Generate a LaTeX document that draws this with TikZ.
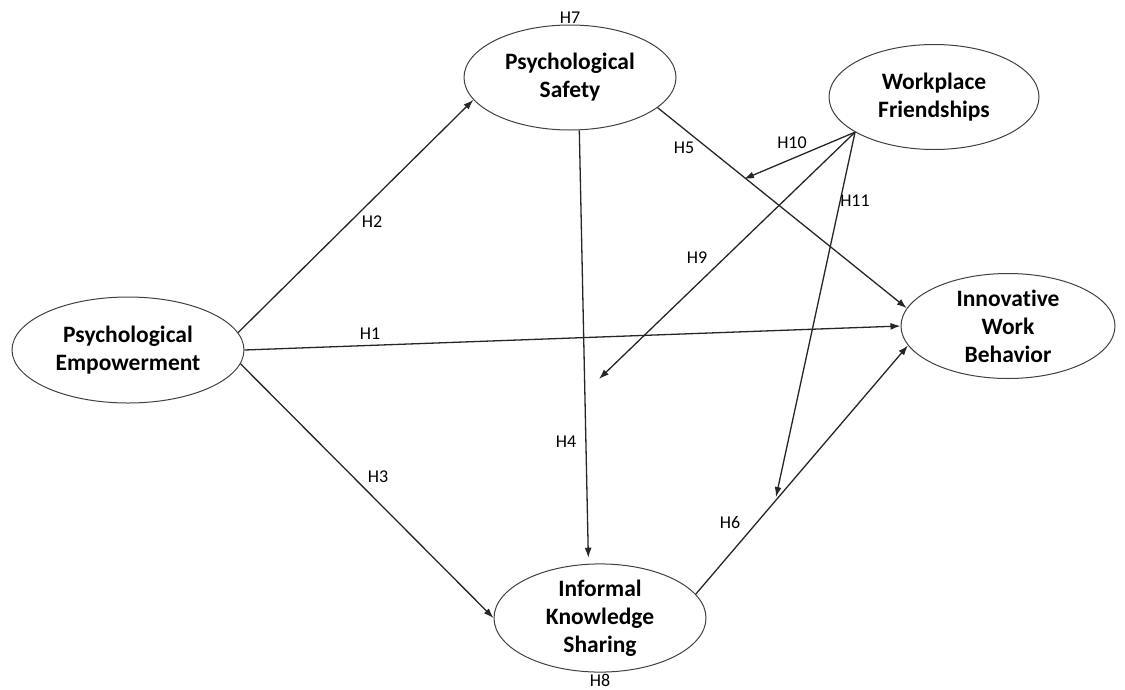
\documentclass[tikz,border=0pt]{standalone}
\usepackage{fontspec}
\setmainfont[Ligatures=NoCommon]{Carlito}
\usetikzlibrary{shapes.geometric,arrows.meta}
\begin{document}
\begin{tikzpicture}[x=1pt,y=-1pt,
  construct/.style={ellipse,draw=black!75,line width=1pt,inner sep=0pt,
    align=center,font=\fontsize{23.5}{28}\selectfont\bfseries},
  hlabel/.style={font=\fontsize{18}{20}\selectfont,inner sep=0pt},
  path/.style={draw=black!85,line width=1.3pt,-{Latex[length=10pt,width=7pt]}},
  plain/.style={draw=black!85,line width=1.3pt}]
\useasboundingbox (0,0) rectangle (1125,689);
\node[construct,minimum width=232pt,minimum height=106pt] (pe) at (128,350) {Psychological\\Empowerment};
\node[construct,minimum width=212pt,minimum height=105pt] (ps) at (570,77.5) {Psychological\\Safety};
\node[construct,minimum width=210pt,minimum height=105pt] (wf) at (934,97) {Workplace\\Friendships};
\node[construct,minimum width=214pt,minimum height=105pt] (iwb) at (1008,326) {Innovative\\Work\\Behavior};
\node[construct,minimum width=212pt,minimum height=105pt] (iks) at (600,618) {Informal\\Knowledge\\Sharing};
\coordinate (t10) at (744,179);
\coordinate (t9) at (599,379);
\coordinate (t11) at (776,497);
\draw[path] (pe.9) -- (ps.-167);
\draw[path] (pe.east) -- (iwb.west);
\draw[path] (pe.-7.6) -- (iks.west);
\draw[path,shorten >=6pt] (ps.-80.8) -- (iks.102);
\draw[path] (ps.-19.5) -- (iwb.170);
\draw[path] (iks.14.7) -- (iwb.-169.6);
\draw[path] (wf.-156.3) -- (t10);
\draw[path] (wf.-156.3) -- (t9);
\draw[path] (wf.-156.3) -- (t11);
\node[hlabel] (h7) at (570,18) {H7};
\node[hlabel] (h8) at (600,680) {H8};
\node[hlabel] (h1) at (370,334) {H1};
\node[hlabel] (h2) at (372,222) {H2};
\node[hlabel] (h3) at (378,477) {H3};
\node[hlabel] (h4) at (566,442) {H4};
\node[hlabel] (h5) at (684,148) {H5};
\node[hlabel] (h6) at (730,522) {H6};
\node[hlabel] (h9) at (697,258) {H9};
\node[hlabel] (h10) at (792,143) {H10};
\node[hlabel] (h11) at (855,201) {H11};
\end{tikzpicture}
\end{document}
